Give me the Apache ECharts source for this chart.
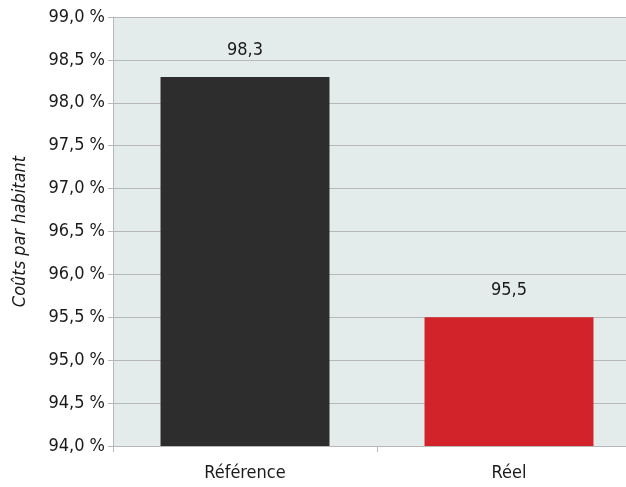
<!DOCTYPE html>
<html>
<head>
<meta charset="UTF-8">
<script src="https://cdn.jsdelivr.net/npm/echarts@6/dist/echarts.min.js"></script>
<style>
    html, body { margin: 0; padding: 0; background: #fff; overflow: hidden; }
    #main { width: 626px; height: 487px; }
</style>
</head>
<body>
<div id="main"></div>
<script>
    var categories = ['Référence', 'Réel'];
    var values = [98.3, 95.5];
    var barColors = ['#2d2d2d', '#d2232a'];

    var font = "'DejaVu Sans Condensed', 'Liberation Sans Narrow', sans-serif";
    var chart = echarts.init(document.getElementById('main'));

    // la zone du graphique dépasse à droite (coupée dans l'original)
    chart.setOption({
        animation: false,
        textStyle: { fontFamily: font },
        grid: {
            left: 113, right: -15, top: 17, bottom: 41,
            outerBoundsMode: 'none', containLabel: false,
            backgroundColor: '#e3ecea', show: true, borderWidth: 0
        },
        xAxis: {
            type: 'category',
            data: categories,
            axisLine: { lineStyle: { color: '#b8b8b8', width: 1 } },
            axisTick: { show: true, length: 6, lineStyle: { color: '#b8b8b8' } },
            axisLabel: { color: '#1a1a1a', fontSize: 18, fontFamily: font, margin: 18 }
        },
        yAxis: {
            type: 'value',
            min: 94, max: 99, interval: 0.5,
            name: 'Coûts par habitant',
            nameLocation: 'middle',
            nameGap: 84,
            nameTextStyle: { fontStyle: 'italic', fontSize: 18, color: '#1a1a1a', fontFamily: font },
            axisLine: { show: true, lineStyle: { color: '#b8b8b8', width: 1 } },
            axisTick: { show: true, length: 5, lineStyle: { color: '#b8b8b8' } },
            splitLine: { lineStyle: { color: '#b8b8b8', width: 1 } },
            axisLabel: {
                color: '#1a1a1a', fontSize: 18, fontFamily: font, margin: 8,
                formatter: function (v) { return v.toFixed(1).replace('.', ',') + ' %'; }
            }
        },
        series: [{
            type: 'bar',
            barWidth: '64%',
            data: values.map(function (v, i) { return { value: v, itemStyle: { color: barColors[i] } }; }),
            label: {
                show: true, position: 'top', distance: 18,
                color: '#1a1a1a', fontSize: 18, fontFamily: font,
                formatter: function (p) { return p.value.toFixed(1).replace('.', ','); }
            }
        }]
    });
</script>
</body>
</html>
